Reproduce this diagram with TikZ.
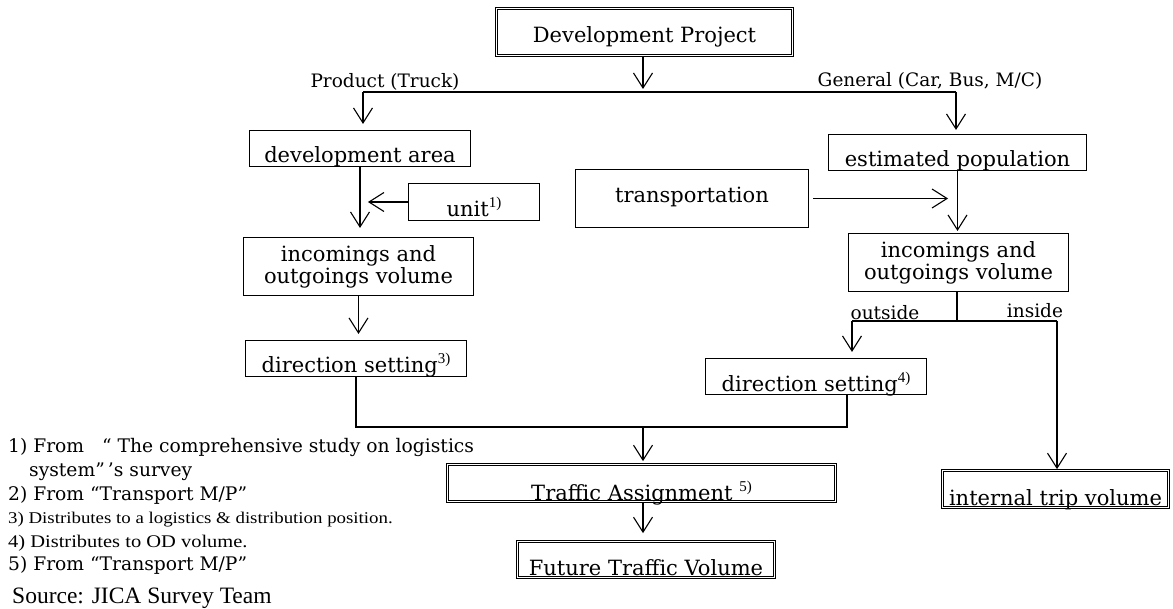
\documentclass[tikz,border=0pt]{standalone}
\usepackage{fontspec}
\setmainfont{DejaVu Serif}
\newfontfamily\tnr[FakeStretch=1.15]{Liberation Serif}
\newfontfamily\tnrplain{Liberation Serif}
\usetikzlibrary{arrows.meta}
\tikzset{
  boxtext/.style={font=\fontsize{21}{23}\selectfont},
  box/.style={draw, line width=1.1pt, inner sep=0pt, boxtext},
  dbox/.style={draw, double, double distance=1.6pt, line width=0.7pt, inner sep=0pt, boxtext},
  ln/.style={line width=1.1pt},
  arr/.style={line width=1.1pt, -{Straight Barb[length=15pt,width=19pt,line width=1.1pt]}},
  lbl/.style={font=\fontsize{18.5}{20}\selectfont, inner sep=0pt, anchor=base},
  noteA/.style={font=\fontsize{18.7}{20}\selectfont, inner sep=0pt, anchor=base west},
  noteB/.style={font=\tnr\fontsize{16.4}{20}\selectfont, inner sep=0pt, anchor=base west},
  noteB2/.style={font=\tnr\fontsize{17.8}{20}\selectfont, inner sep=0pt, anchor=base west},
  noteC/.style={font=\tnrplain\fontsize{23.5}{25}\selectfont, inner sep=0pt, anchor=base west},
}
\newcommand{\supx}[1]{\raisebox{0.42em}{\tnrplain\fontsize{15}{16}\selectfont #1}}
\begin{document}
\begin{tikzpicture}[x=1pt,y=-1pt]
\path[use as bounding box, fill=white] (0,0) rectangle (1173,609);

% boxes
\node[dbox, minimum width=296pt, text height=34.5pt, text depth=12.5pt] (dp) at (644.5,32) {Development Project};
\node[box, minimum width=221pt, text height=32pt, text depth=4pt] (da) at (360,148.5) {development area};
\node[box, minimum width=258pt, text height=32pt, text depth=4pt] (ep) at (957.5,152.5) {estimated population};
\node[box, minimum width=233pt, text height=33pt, text depth=25pt] (tr) at (692,198.5) {transportation};
\node[box, minimum width=131pt, text height=33pt, text depth=4pt] (un) at (474,202) {unit\supx{1)}};
\node[box, minimum width=230pt, minimum height=58pt, align=center, font=\fontsize{21}{22}\selectfont] (io1) at (358.5,266.5) {incomings and\\outgoings volume};
\node[box, minimum width=221pt, text height=32pt, text depth=4pt] (ds3) at (356,358.5) {direction setting\supx{3)}};
\node[box, minimum width=220pt, minimum height=58pt, align=center, font=\fontsize{21}{22}\selectfont] (io2) at (958.5,262.5) {incomings and\\outgoings volume};
\node[box, minimum width=221pt, text height=33pt, text depth=3pt] (ds4) at (816,376.5) {direction setting\supx{4)}};
\node[dbox, minimum width=388pt, text height=36pt, text depth=1pt] (ta) at (641.5,483) {Traffic Assignment \supx{5)}};
\node[dbox, minimum width=257pt, text height=33.5pt, text depth=2.5pt] (ftv) at (646,559.5) {Future Traffic Volume};
\node[dbox, minimum width=226pt, text height=34.5pt, text depth=2.5pt] (itv) at (1055.5,489) {internal trip volume};

% labels
\node[lbl] (lp) at (385,88) {Product (Truck)};
\node[lbl] (lg) at (930,87) {General (Car, Bus, M/C)};
\node[lbl] (lo) at (885,320) {outside};
\node[lbl] (li) at (1035,318) {inside};

% top split
\coordinate (jt) at (643,92);
\coordinate (jl) at (363,92);
\coordinate (jr) at (956,92);
\draw[arr, shorten >=3pt] (dp.south -| jt) -- (jt);
\draw[ln] (jl) -- (jr);
\draw[arr, shorten >=6pt] (jl) -- (jl |- da.north);
\draw[arr, shorten >=4pt] (jr) -- (jr |- ep.north);

% left column
\draw[arr, shorten >=9pt] (da.south) -- (da.south |- io1.north);
\draw[arr] (un.west) -- ++(-40,0);
\draw[arr, shorten >=6pt] (io1.south) -- (io1.south |- ds3.north);

% right column
\draw[arr, shorten >=2pt] (ep.south) -- (ep.south |- io2.north);
\draw[arr] ([xshift=4pt]tr.east) -- ++(135,0);
\coordinate (sm) at (957,321);
\coordinate (sl) at (852,321);
\coordinate (sr) at (1057,321);
\draw[ln] (io2.south -| sm) -- (sm);
\draw[ln] (sl) -- (sr);
\draw[arr, shorten >=6pt] (sl) -- (sl |- ds4.north);
\draw[arr, shorten >=1pt] (sr) -- (sr |- itv.north);

% merge
\coordinate (bl) at (356,427);
\coordinate (br) at (847,427);
\coordinate (bm) at (643,427);
\draw[ln] (ds3.south -| bl) -- (bl) -- (br) -- (ds4.south -| br);
\draw[arr, shorten >=3pt] (bm) -- (bm |- ta.north);
\draw[arr, shorten >=8pt] (ta.south -| bm) -- (ftv.north -| bm);

% notes
\node[noteA] (n1) at (8,453) {1) From\ \ \ “ The comprehensive study on logistics};
\node[noteA] (n1b) at (29,476) {system”\,’s survey};
\node[noteA] (n2) at (8,500) {2) From “Transport M/P”};
\node[noteB] (n3) at (8,523) {3) Distributes to a logistics \& distribution position.};
\node[noteB2] (n4) at (8,547) {4) Distributes to OD volume.};
\node[noteA] (n5) at (8,570) {5) From “Transport M/P”};
\node[noteC] (src) at (12,603) {Source: JICA Survey Team};
\end{tikzpicture}
\end{document}
